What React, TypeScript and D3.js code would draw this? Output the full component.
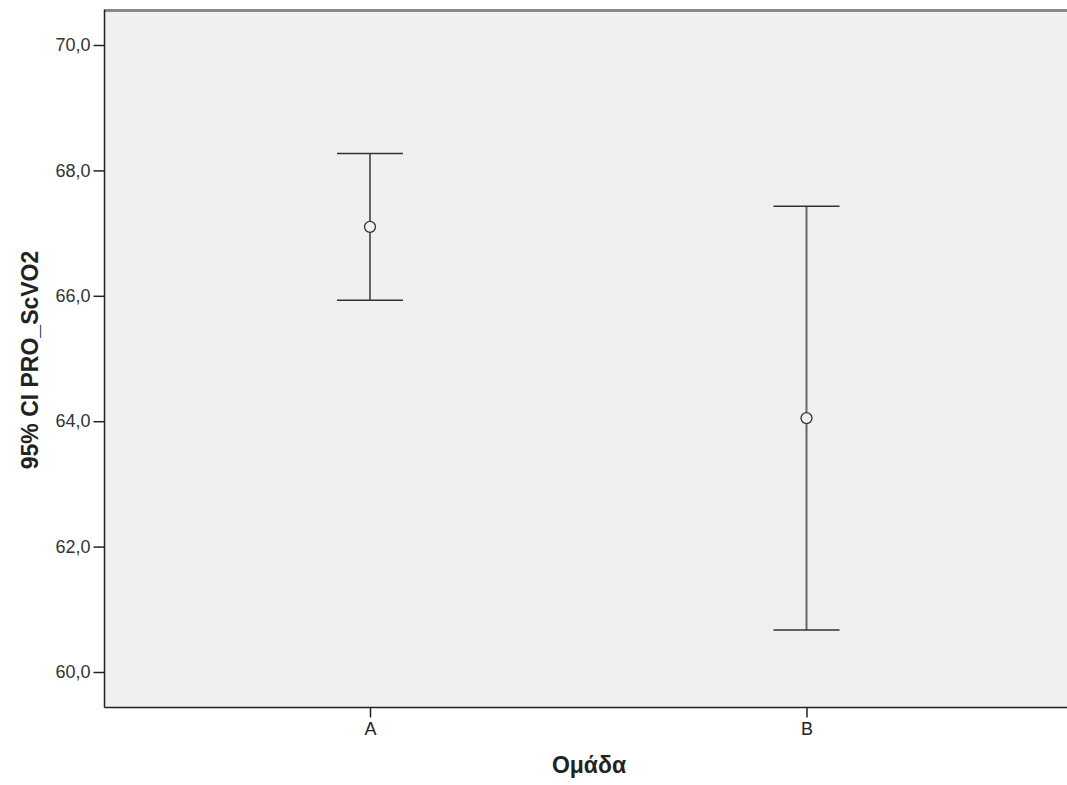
import React, { useEffect, useRef } from "react";
import * as d3 from "d3";

const groups = ["A", "B"];
const means = [67.1, 64.05];
const lower = [65.93, 60.67];
const upper = [68.27, 67.43];
const yTicks = [60, 62, 64, 66, 68, 70];

const width = 1067;
const height = 785;
const font = "'Liberation Sans', Arial, sans-serif";

export default function App() {
  const ref = useRef<SVGSVGElement>(null);

  useEffect(() => {
    const svg = d3.select(ref.current);
    svg.selectAll("*").remove();

    const left = 104.5;
    const top = 10.5;
    const bottom = 707.5;
    const right = width + 5;

    const xScale = d3.scalePoint().domain(groups).range([370, 806.5]);
    const yScale = d3.scaleLinear().domain([60, 70]).range([672, 45]);

    svg.append("rect")
      .attr("x", left).attr("y", top)
      .attr("width", right - left).attr("height", bottom - top)
      .attr("fill", "#f0f0f0");

    // frame: gray top, dark left and bottom
    svg.append("line").attr("x1", left).attr("x2", right).attr("y1", top).attr("y2", top)
      .attr("stroke", "#8a8a8a").attr("stroke-width", 3);

    const yAxis = d3.axisLeft(yScale).tickValues(yTicks)
      .tickFormat(d => d3.format(".1f")(d as number).replace(".", ","))
      .tickSize(11).tickPadding(3);
    const gy = svg.append("g").attr("transform", `translate(${left},0)`).call(yAxis);
    gy.select(".domain").remove();
    gy.selectAll(".tick line").attr("stroke", "#222").attr("stroke-width", 1.5);
    gy.selectAll(".tick text").attr("fill", "#333")
      .style("font-family", font).style("font-size", "18px");

    const xAxis = d3.axisBottom(xScale).tickSize(10).tickPadding(5);
    const gx = svg.append("g").attr("transform", `translate(0,${bottom})`).call(xAxis);
    gx.select(".domain").remove();
    gx.selectAll(".tick line").attr("stroke", "#222").attr("stroke-width", 1.5);
    gx.selectAll(".tick text").attr("fill", "#222")
      .style("font-family", font).style("font-size", "18px");

    svg.append("line").attr("x1", left).attr("x2", left).attr("y1", top - 1).attr("y2", bottom)
      .attr("stroke", "#222").attr("stroke-width", 1.5);
    svg.append("line").attr("x1", left).attr("x2", right).attr("y1", bottom).attr("y2", bottom)
      .attr("stroke", "#222").attr("stroke-width", 1.5);

    const bars = svg.append("g");
    groups.forEach((g, i) => {
      const cx = xScale(g) as number;
      bars.append("line")
        .attr("x1", cx).attr("x2", cx)
        .attr("y1", yScale(upper[i])).attr("y2", yScale(lower[i]))
        .attr("stroke", "#666").attr("stroke-width", 2);
      [upper[i], lower[i]].forEach(v => {
        bars.append("line")
          .attr("x1", cx - 33).attr("x2", cx + 33)
          .attr("y1", yScale(v)).attr("y2", yScale(v))
          .attr("stroke", "#333").attr("stroke-width", 1.5);
      });
      bars.append("circle")
        .attr("cx", cx).attr("cy", yScale(means[i])).attr("r", 5.5)
        .attr("fill", "#f0f0f0").attr("stroke", "#333").attr("stroke-width", 1.3);
    });

    svg.append("text")
      .attr("x", 589).attr("y", 773)
      .attr("text-anchor", "middle")
      .style("font-family", font)
      .style("font-size", "23px").style("font-weight", "bold").attr("fill", "#222")
      .text("Ομάδα");

    svg.append("text")
      .attr("transform", `translate(38,360) rotate(-90)`)
      .attr("text-anchor", "middle")
      .style("font-family", font)
      .style("font-size", "23px").style("font-weight", "bold").attr("fill", "#222")
      .text("95% CI PRO_ScVO2");
  }, []);

  return (
    <svg ref={ref} width={width} height={height}
      style={{ position: "absolute", left: 0, top: 0, background: "#fff" }} />
  );
}
